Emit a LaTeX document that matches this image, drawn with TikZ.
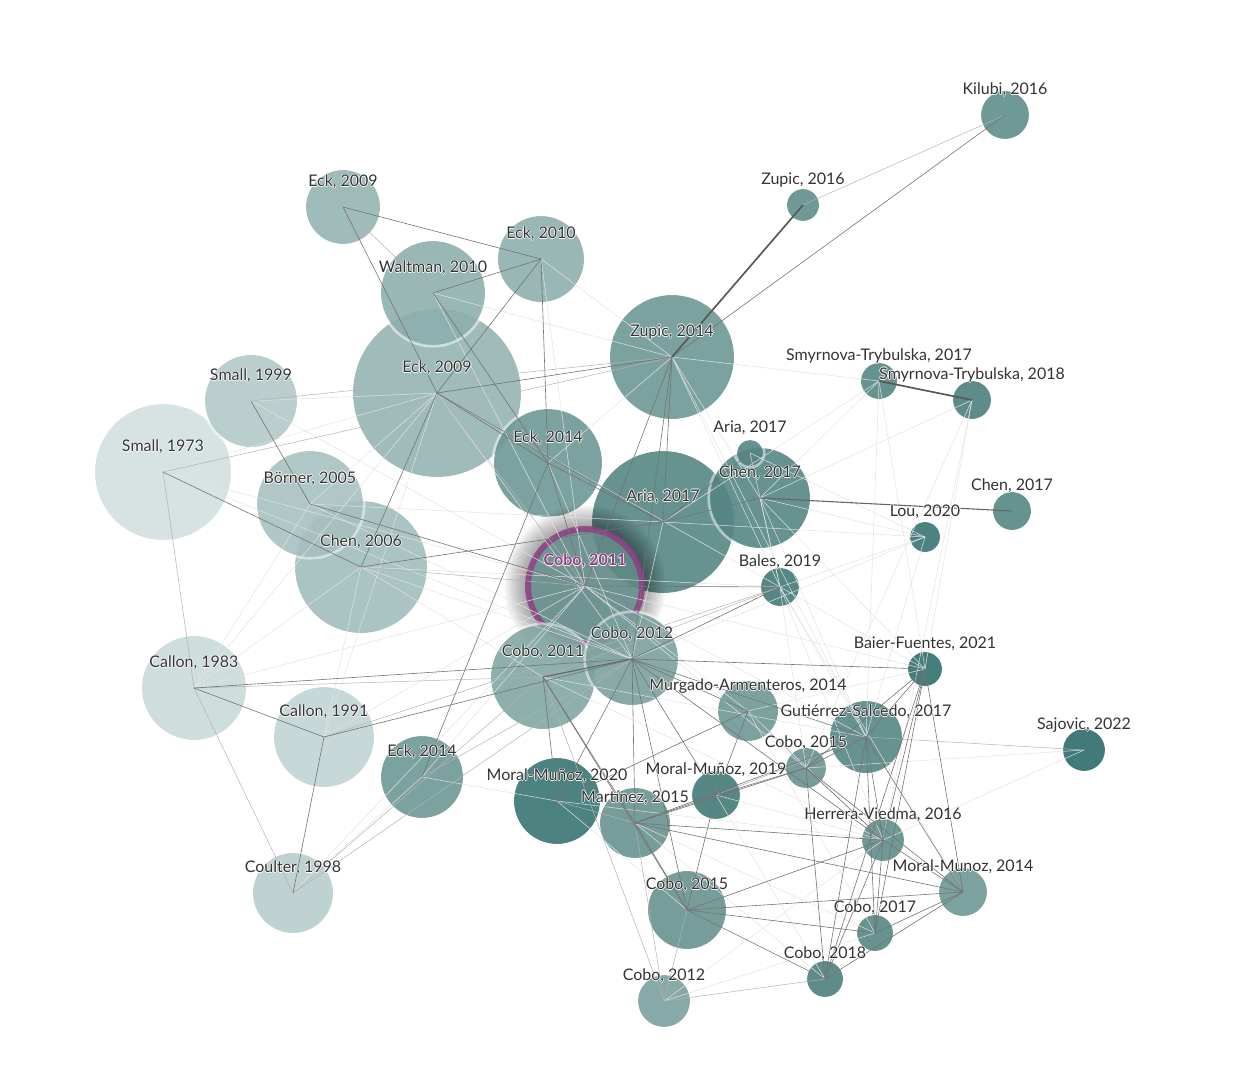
\documentclass[tikz,border=0pt]{standalone}
\usepackage{fontspec}
\setmainfont{Lato}
\usetikzlibrary{positioning,calc}

\pgfdeclarelayer{links}
\pgfdeclarelayer{tags}
\pgfsetlayers{main,links,tags}

% one shade per publication year, old = pale
\definecolor{y1973}{HTML}{D1E0DF}
\definecolor{y1983}{HTML}{C8DAD9}
\definecolor{y1991}{HTML}{C0D4D3}
\definecolor{y1998}{HTML}{B7CDCC}
\definecolor{y1999}{HTML}{B1C9C8}
\definecolor{y2005}{HTML}{A6C1C0}
\definecolor{y2006}{HTML}{A1BDBC}
\definecolor{y2009}{HTML}{95B4B3}
\definecolor{y2010}{HTML}{8DAFAD}
\definecolor{y2011}{HTML}{82A7A4}
\definecolor{y2012}{HTML}{7AA19E}
\definecolor{y2014}{HTML}{6E9896}
\definecolor{y2015}{HTML}{68928F}
\definecolor{y2016}{HTML}{5F8E8C}
\definecolor{y2017}{HTML}{558684}
\definecolor{y2018}{HTML}{4D807E}
\definecolor{y2019}{HTML}{437A78}
\definecolor{y2020}{HTML}{387573}
\definecolor{y2021}{HTML}{30706E}
\definecolor{y2022}{HTML}{2C6C6A}
\definecolor{ink}{HTML}{333333}
\definecolor{pick}{HTML}{8E3F84}

% white rim round a label
\newcommand{\halo}[1]{%
  \leavevmode
  \rlap{\color{white}\kern0.8pt#1}%
  \rlap{\color{white}\kern-0.8pt#1}%
  \rlap{\color{white}\raisebox{0.8pt}{#1}}%
  \rlap{\color{white}\raisebox{-0.8pt}{#1}}%
  #1}

\tikzset{
  paper/.style={circle, inner sep=0pt, fill=#1, fill opacity=0.9},
  rim/.style={draw=white, draw opacity=0.5, line width=2.6pt},
  tag/.style={font=\fontsize{16}{18}\selectfont, text=ink, inner sep=0pt},
  heavy/.style={draw=black!65, line width=1.7pt},
  strong/.style={draw=black!60, line width=1.1pt},
  link/.style={draw=black!55, line width=0.6pt},
  weak/.style={draw=black!30, line width=0.5pt},
  faint/.style={draw=black!11, line width=0.5pt},
}

\begin{document}
\begin{tikzpicture}[x=1pt,y=-1pt]
    \useasboundingbox (0,0) rectangle (1238,1077);
    % older papers, back to front
    \foreach \n/\x/\y/\d/\c/\t in {
        sma73/163/472/136/y1973/{Small, 1973},
        cal83/194/688/104/y1983/{Callon, 1983},
        cal91/324/737/100/y1991/{Callon, 1991},
        cou98/293/893/80/y1998/{Coulter, 1998},
        sma99/251/401/92/y1999/{Small, 1999},
        che06/361/567/132/y2006/{Chen, 2006},
        bor05/310/504/106/y2005/{Börner, 2005},
        eck09b/437/393/168/y2009/{Eck, 2009},
        wal10/433/293/104/y2010/{Waltman, 2010},
        eck09a/343/207/74/y2009/{Eck, 2009},
        eck10/541/259/86/y2010/{Eck, 2010},
        zup14/672/357/124/y2014/{Zupic, 2014},
        eck14a/548/463/108/y2014/{Eck, 2014},
        ari17b/663/522/142/y2017/{Aria, 2017}} {
      \node[paper=\c, minimum size=\d pt] (\n) at (\x,\y) {};
      \draw[rim] (\n.center) circle[radius=\d pt/2+1.3pt];
      \begin{pgfonlayer}{tags}
        \node[tag] at ([yshift=25pt]\n.center) {\halo{\t}};
      \end{pgfonlayer}
    }
    % selected paper
    \coordinate (focus) at (585,586);
    \foreach \k in {1,...,13}
      \fill[black, opacity=0.035] (focus) circle[radius=56pt+1.9pt*\k];
    \node[paper=y2015, fill opacity=0.85, minimum size=116pt] (cob11a) at (focus) {};
    \draw[pick, line width=6pt, opacity=0.85] (cob11a) circle[radius=57pt];
    \begin{pgfonlayer}{tags}
      \node[tag, text=pick] at ([yshift=25pt]cob11a.center) {\halo{\textbf{Cobo, 2011}}};
    \end{pgfonlayer}
    % newer papers
    \foreach \n/\x/\y/\d/\c/\t in {
        cob11b/543/677/104/y2011/{Cobo, 2011},
        cob12a/632/659/92/y2012/{Cobo, 2012},
        che17a/760/498/100/y2017/{Chen, 2017},
        ari17a/750/453/26/y2017/{Aria, 2017},
        kil16/1005/115/48/y2016/{Kilubi, 2016},
        zup16/803/205/32/y2016/{Zupic, 2016},
        smy17/879/381/36/y2017/{Smyrnova-Trybulska, 2017},
        smy18/972/400/38/y2018/{Smyrnova-Trybulska, 2018},
        che17b/1012/511/38/y2017/{Chen, 2017},
        lou20/925/537/30/y2020/{Lou, 2020},
        bal19/780/587/38/y2019/{Bales, 2019},
        bai21/925/669/34/y2021/{Baier-Fuentes, 2021},
        mur14/748/711/60/y2014/{Murgado-Armenteros, 2014},
        gut17/866/737/72/y2017/{Gutiérrez-Salcedo, 2017},
        saj22/1084/750/42/y2022/{Sajovic, 2022},
        cob15a/806/768/40/y2015/{Cobo, 2015},
        eck14b/422/777/82/y2014/{Eck, 2014},
        mor19/716/795/48/y2019/{Moral-Muñoz, 2019},
        mor20/557/801/86/y2020/{Moral-Muñoz, 2020},
        mar15/635/823/70/y2015/{Martínez, 2015},
        her16/883/840/42/y2016/{Herrera-Viedma, 2016},
        mor14/963/892/48/y2014/{Moral-Munoz, 2014},
        cob15b/687/910/78/y2015/{Cobo, 2015},
        cob17/875/933/36/y2017/{Cobo, 2017},
        cob18/825/979/36/y2018/{Cobo, 2018},
        cob12b/664/1001/52/y2012/{Cobo, 2012}} {
      \node[paper=\c, minimum size=\d pt] (\n) at (\x,\y) {};
      \draw[rim] (\n.center) circle[radius=\d pt/2+1.3pt];
      \begin{pgfonlayer}{tags}
        \node[tag] at ([yshift=25pt]\n.center) {\halo{\t}};
      \end{pgfonlayer}
    }
    % citation links
    \begin{pgfonlayer}{links}
    \foreach \a/\b in {sma73/eck09b, sma73/cob11a, sma73/cob12a, sma99/eck09b,
        sma99/cob11a, bor05/eck09b, bor05/cob12a, bor05/ari17b, che06/cob12a,
        che06/cob11b, che06/bal19, cal83/eck09b, cal83/che06, cal83/cob11a,
        cal83/bor05, cal91/cob11a, cal91/eck09b, cal91/che06, cou98/cob11a,
        cou98/eck14b, eck10/zup14, eck10/cob11a, wal10/cob11a, wal10/zup14,
        eck14a/zup14, eck14a/cob12a, ari17b/cob12a, ari17b/smy17, ari17b/lou20,
        che17a/smy17, che17a/smy18, che17a/lou20, che17a/bal19, che17a/gut17,
        che17a/bai21, smy17/bai21, smy17/gut17, smy18/bai21, smy18/her16,
        smy18/cob15a, lou20/gut17, lou20/bal19, lou20/cob12a, bal19/bai21,
        bal19/gut17, bal19/cob15a, bal19/her16, bal19/mor14, bai21/mur14,
        saj22/cob15a, saj22/her16, mur14/her16, mur14/cob17, mor20/cob15b,
        mor20/her16, mor19/cob18, mor19/her16, mar15/cob17, mar15/cob18,
        cob12b/cob17, cob12b/her16, cob11a/gut17, cob11a/mur14, cob11a/cob15a,
        cob11a/bai21, cob11b/gut17, cob11b/her16, eck14b/cob11a, eck14b/mor20,
        zup14/bal19, zup14/che17a, zup14/smy17, ari17a/bal19, ari17a/lou20,
        zup14/gut17, eck09b/cob12a, eck09b/bal19}
      \draw[faint] (\a.center) -- (\b.center);
    \foreach \a/\b in {sma73/zup14, sma99/zup14, sma73/cal83, cal83/cou98,
        cal83/cob11b, cal91/bal19, cou98/cob11b, cou98/cob12a, eck14b/cob12a,
        zup16/kil16, eck09a/wal10, cob15b/cob12b, cob12b/mar15, cob12b/cob18,
        cob11b/cob12b, saj22/gut17, eck09b/cob11a, che06/cob11a, cob11b/bal19,
        ari17a/che17a, mur14/cob15a, gut17/mor19, mor20/mar15}
      \draw[weak] (\a.center) -- (\b.center);
    \foreach \a/\b in {zup14/kil16, eck09a/eck10, eck09a/eck09b, eck10/wal10,
        eck10/eck09b, eck10/eck14a, wal10/eck14a, eck09b/eck14a, eck09b/ari17b,
        eck09b/che06, eck09b/zup14, zup14/ari17b, zup14/cob11a, zup14/cob12a,
        sma99/bor05, sma73/che06, bor05/cob11a, che06/ari17b, eck14b/eck14a,
        cal83/cal91, cal91/cou98, cal83/cob12a, cal91/cob12a, cob11a/bal19,
        cob12a/bal19, ari17b/che17a, ari17b/ari17a, cob12a/bai21, cob12a/mur14,
        cob12a/gut17, cob12a/mar15, cob12a/cob15b, cob12a/mor19, cob12a/mor20,
        cob12a/her16, cob11b/mor20, cob11b/mar15, cob11b/cob15b, mur14/mor19,
        mur14/mor20, gut17/cob15a, gut17/her16, gut17/cob17, gut17/cob18,
        gut17/mor14, gut17/bai21, gut17/mar15, her16/cob15b, her16/mor14,
        her16/cob17, her16/cob18, her16/mar15, mor14/cob17, mor14/cob18,
        mor14/cob15b, mor14/mar15, cob15b/cob18, cob15b/cob17, cob15b/mor19,
        cob15b/mar15, cob15a/her16, cob15a/cob18, cob15a/mor14, cob15a/mor19,
        cob15a/mar15, bai21/cob15a, bai21/cob17, bai21/cob18, bai21/mor14,
        bai21/her16, mar15/mor19, eck14a/cob11a, eck14a/ari17b}
      \draw[link] (\a.center) -- (\b.center);
    \draw[strong] (che17a.center) -- (che17b.center);
    \draw[strong] (cob11b.center) -- (cob12a.center);
    \draw[heavy] (zup14.center) -- (zup16.center);
    \draw[heavy] (smy17.center) -- (smy18.center);
    \end{pgfonlayer}
\end{tikzpicture}
\end{document}
